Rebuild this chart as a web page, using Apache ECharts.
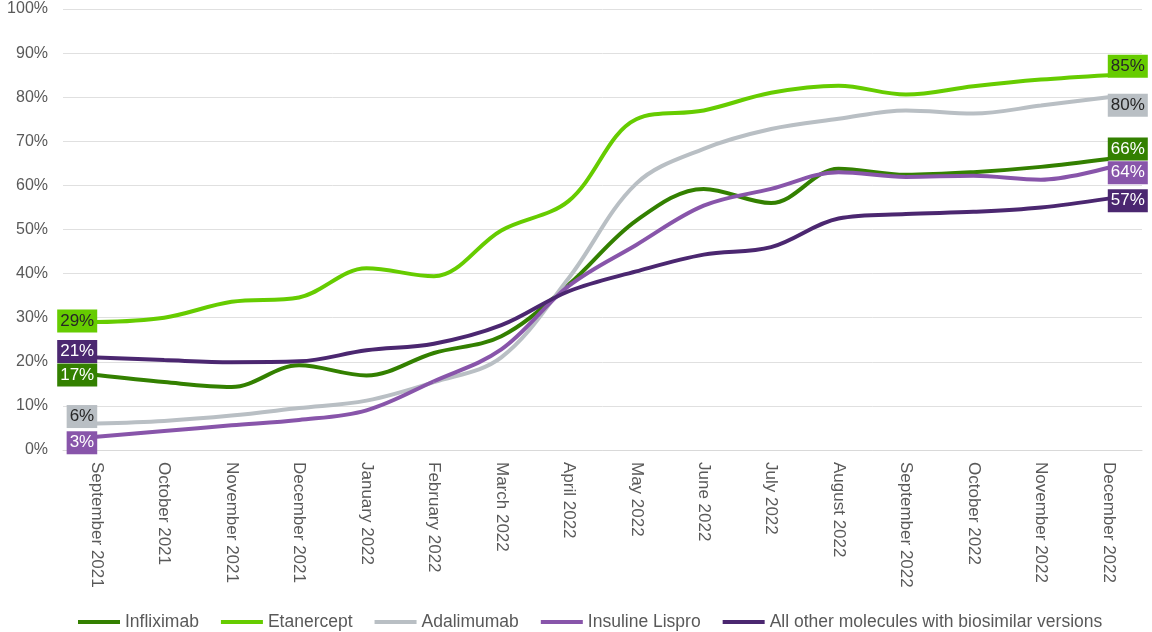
<!DOCTYPE html>
<html>
<head>
<meta charset="utf-8">
<script src="https://cdn.jsdelivr.net/npm/echarts@6/dist/echarts.min.js"></script>
<style>
  html, body { margin: 0; padding: 0; background: #fff; }
  #main { width: 1152px; height: 632px; }
</style>
</head>
<body>
<div id="main"></div>
<script>
// categories (months)
var months = [
  'September 2021', 'October 2021', 'November 2021', 'December 2021',
  'January 2022', 'February 2022', 'March 2022', 'April 2022',
  'May 2022', 'June 2022', 'July 2022', 'August 2022',
  'September 2022', 'October 2022', 'November 2022', 'December 2022'
];

// series values (%)
var infliximab = [17, 15.4, 14.3, 19.2, 16.9, 22, 25.8, 37.5, 52, 59.2, 56, 63.8, 62.4, 63, 64.2, 66];
var etanercept = [29, 30, 33.6, 34.6, 41.2, 39.4, 49.8, 56.5, 75, 77, 81, 82.6, 80.6, 82.5, 84, 85];
var adalimumab = [6, 6.6, 7.8, 9.5, 11.2, 15.4, 21, 39, 60.4, 68.3, 72.8, 75.1, 77, 76.3, 78.1, 80];
var insulineLispro = [3, 4.3, 5.6, 6.8, 9, 15.6, 22.8, 37.2, 46.5, 55.4, 59.2, 63, 61.9, 62.2, 61.3, 64];
var allOther = [21, 20.4, 19.9, 20.1, 22.6, 24.1, 28.3, 36, 40.5, 44.3, 46, 52.5, 53.5, 54, 55, 57];

var yTicks = { min: 0, max: 100, interval: 10 };

// first/last point labels, shifted a bit so they don't collide (like Excel does)
function endLabels(values, color, textColor, dyFirst, dyLast) {
  var last = values.length - 1;
  return values.map(function (v, i) {
    if (i !== 0 && i !== last) return v;
    return {
      value: v,
      label: {
        show: true,
        position: i === 0 ? 'left' : 'right',
        distance: 0,
        offset: i === 0 ? [1, dyFirst] : [-1, dyLast],
        formatter: function (p) { return Math.round(p.value) + '%'; },
        backgroundColor: color,
        color: textColor,
        fontSize: 17,
        lineHeight: 18,
        padding: [3, 3, 2, 3]
      }
    };
  });
}

function makeSeries(name, values, color, textColor, dyFirst, dyLast) {
  return {
    name: name,
    type: 'line',
    smooth: 0.35,
    data: endLabels(values, color, textColor, dyFirst, dyLast),
    symbol: 'circle',
    symbolSize: 1,
    showSymbol: true,
    showAllSymbol: true,
    lineStyle: { width: 4, color: color },
    itemStyle: { color: color },
    emphasis: { disabled: true }
  };
}

var chart = echarts.init(document.getElementById('main'), null, { renderer: 'canvas' });

chart.setOption({
  backgroundColor: '#ffffff',
  animation: false,
  textStyle: { fontFamily: 'Liberation Sans, Arial, sans-serif' },
  grid: { left: 63, right: 10, top: 9, bottom: 182 },
  legend: {
    top: 608,
    left: 73,
    icon: 'rect',
    itemWidth: 42,
    itemHeight: 4,
    itemGap: 22,
    textStyle: { color: '#595959', fontSize: 17.5 },
    data: ['Infliximab', 'Etanercept', 'Adalimumab', 'Insuline Lispro', 'All other molecules with biosimilar versions']
  },
  xAxis: {
    type: 'category',
    data: months,
    boundaryGap: true,
    axisLine: { lineStyle: { color: '#d9d9d9' } },
    axisTick: { show: false },
    axisLabel: {
      interval: 0,
      rotate: -90,
      margin: 12,
      color: '#595959',
      fontSize: 17
    }
  },
  yAxis: {
    type: 'value',
    min: yTicks.min,
    max: yTicks.max,
    interval: yTicks.interval,
    axisLine: { show: false },
    axisTick: { show: false },
    splitLine: { lineStyle: { color: '#e0e0e0', width: 1 } },
    axisLabel: {
      formatter: '{value}%',
      color: '#595959',
      fontSize: 16,
      margin: 15
    }
  },
  series: [
    makeSeries('Infliximab', infliximab, '#338000', '#ffffff', 0, -10),
    makeSeries('Etanercept', etanercept, '#66cc00', '#262626', -1, -9),
    makeSeries('Adalimumab', adalimumab, '#b9bfc4', '#262626', -7, 8),
    makeSeries('Insuline Lispro', insulineLispro, '#8855aa', '#ffffff', 6, 5),
    makeSeries('All other molecules with biosimilar versions', allOther, '#4b2770', '#ffffff', -6, 2)
  ]
});
</script>
</body>
</html>
